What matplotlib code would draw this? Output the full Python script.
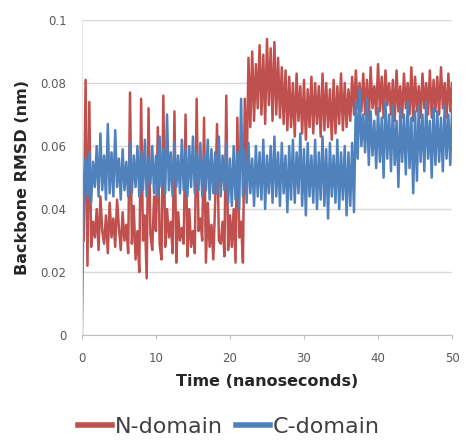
import numpy as np
import matplotlib
matplotlib.use("Agg")
import matplotlib.pyplot as plt

# time axis: one sample every 0.25 ns
time_ns = np.arange(0, 50.001, 0.25)

# RMSD values, in units of 1e-3 nm
n_domain = [
    50, 30, 81, 22, 74, 28, 36, 31,
    40, 27, 44, 33, 29, 38, 26, 42,
    31, 37, 28, 43, 34, 27, 39, 30,
    35, 26, 77, 29, 41, 24, 33, 20,
    75, 30, 38, 18, 72, 32, 27, 44,
    33, 66, 29, 24, 76, 28, 40, 31,
    36, 26, 71, 23, 39, 30, 34, 29,
    70, 25, 40, 28, 33, 26, 75, 33,
    37, 30, 69, 23, 42, 28, 35, 24,
    42, 67, 30, 29, 36, 25, 76, 27,
    38, 28, 40, 23, 69, 31, 36, 23,
    75, 50, 88, 66, 90, 68, 86, 72,
    92, 70, 89, 67, 94, 73, 91, 68,
    93, 70, 88, 69, 85, 67, 84, 65,
    82, 66, 80, 63, 83, 68, 79, 64,
    81, 62, 78, 66, 82, 64, 80, 67,
    79, 63, 83, 65, 80, 66, 78, 62,
    81, 64, 79, 67, 83, 65, 80, 66,
    78, 68, 82, 70, 84, 72, 80, 71,
    83, 70, 81, 68, 85, 72, 79, 70,
    86, 71, 82, 69, 84, 73, 80, 70,
    81, 68, 84, 71, 79, 69, 83, 72,
    80, 70, 85, 68, 82, 71, 79, 69,
    83, 72, 80, 70, 84, 69, 81, 71,
    82, 70, 85, 72, 80, 69, 83, 71,
    80,
]
c_domain = [
    0, 48, 56, 44, 58, 42, 55, 47,
    60, 44, 64, 46, 57, 43, 67, 45,
    58, 44, 65, 47, 56, 43, 59, 46,
    55, 44, 61, 45, 57, 47, 60, 44,
    58, 46, 62, 44, 56, 48, 60, 45,
    57, 44, 63, 47, 59, 45, 70, 46,
    58, 44, 61, 47, 57, 45, 62, 46,
    59, 44, 60, 47, 63, 45, 58, 46,
    61, 44, 57, 46, 62, 43, 59, 45,
    58, 45, 63, 44, 57, 46, 61, 42,
    56, 41, 60, 43, 58, 40, 75, 44,
    59, 42, 61, 45, 56, 41, 60, 44,
    58, 43, 62, 40, 57, 45, 60, 42,
    63, 44, 58, 41, 61, 45, 57, 39,
    60, 43, 62, 42, 58, 45, 64, 41,
    59, 38, 61, 44, 57, 42, 62, 40,
    58, 43, 63, 41, 59, 37, 61, 44,
    57, 42, 62, 40, 58, 43, 60, 38,
    58, 41, 61, 39, 74, 56, 78, 60,
    70, 58, 75, 54, 71, 57, 68, 53,
    72, 55, 69, 50, 74, 56, 70, 52,
    73, 54, 68, 47, 72, 55, 70, 51,
    74, 53, 69, 45, 71, 49, 73, 55,
    70, 52, 74, 56, 68, 50, 72, 54,
    71, 55, 69, 52, 73, 56, 70, 54,
    72,
]
series_names = ["N-domain", "C-domain"]
y_ticks = [0, 0.02, 0.04, 0.06, 0.08, 0.1]
y_tick_labels = ["0", "0.02", "0.04", "0.06", "0.08", "0.1"]
x_ticks = [0, 10, 20, 30, 40, 50]

red = "#C0504D"
blue = "#4F81BD"
grey_txt = "#595959"

fig = plt.figure(figsize=(4.68, 4.45), dpi=100)
ax = fig.add_axes([0.175, 0.247, 0.791, 0.708])

ax.plot(time_ns, np.array(n_domain) / 1000, color=red, lw=1.8, label=series_names[0])
ax.plot(time_ns, np.array(c_domain) / 1000, color=blue, lw=1.8, label=series_names[1])

ax.set_xlim(0, 50)
ax.set_ylim(0, 0.1)
ax.set_yticks(y_ticks)
ax.set_yticklabels(y_tick_labels)
ax.set_xticks(x_ticks)
ax.grid(axis="y", color="#d9d9d9", lw=1)
ax.set_axisbelow(True)

for s in ["top", "right"]:
    ax.spines[s].set_visible(False)
ax.spines["left"].set_color("#e6e6e6")
ax.spines["bottom"].set_color("#bfbfbf")
ax.tick_params(axis="y", length=0, labelsize=8.5, colors=grey_txt, pad=11)
ax.tick_params(axis="x", length=3, color="#bfbfbf", labelsize=8.5, labelcolor=grey_txt, pad=9)

ax.set_xlabel("Time (nanoseconds)", fontsize=11.5, fontweight="bold", color="#262626", labelpad=7)
ax.set_ylabel("Backbone RMSD (nm)", fontsize=11.5, fontweight="bold", color="#262626", labelpad=8)

leg = fig.legend(loc="lower center", bbox_to_anchor=(0.49, -0.027), ncol=2, frameon=False,
                 fontsize=16, handlelength=1.5, handletextpad=0.15, columnspacing=0.6)
for line in leg.get_lines():
    line.set_linewidth(4)
for t in leg.get_texts():
    t.set_color("#404040")

fig.savefig("out.png", dpi=100)
